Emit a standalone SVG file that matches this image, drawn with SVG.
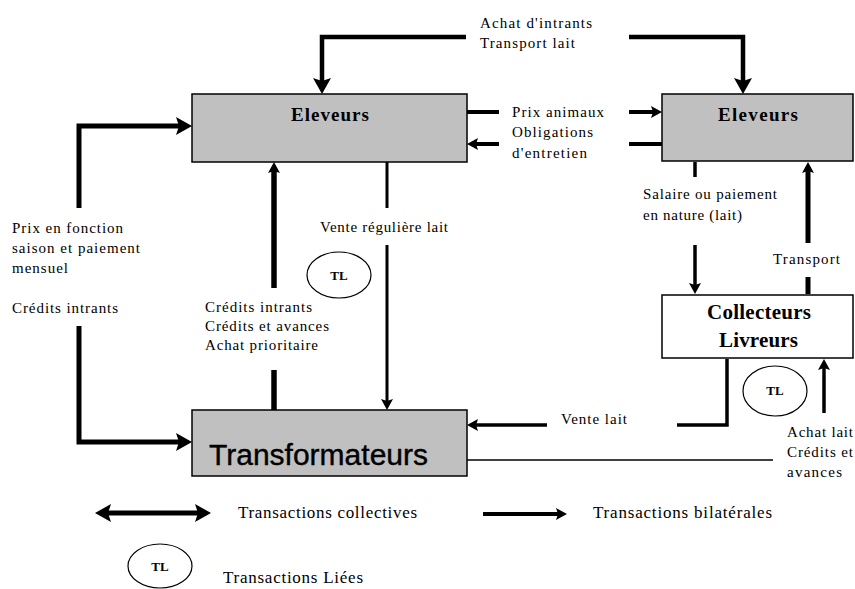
<svg xmlns="http://www.w3.org/2000/svg" width="855" height="589" viewBox="0 0 855 589">
<style>
.box{fill:#c0c0c0;stroke:#000;stroke-width:1.5}
.wbox{fill:#fff;stroke:#000;stroke-width:1.5}
.c{fill:none;stroke:#000;stroke-linejoin:miter;stroke-linecap:butt}
.col{stroke-width:5}
.bil{stroke-width:3.5}
.t{font-family:"Liberation Serif","Times New Roman",serif;font-size:15px;fill:#000}
.lg{font-family:"Liberation Serif","Times New Roman",serif;font-size:17px;fill:#000}
.nb{font-family:"Liberation Serif","Times New Roman",serif;font-weight:bold;fill:#000}
.tl{fill:#fff;stroke:#000;stroke-width:1.2}
.tlt{font-family:"Liberation Serif","Times New Roman",serif;font-weight:bold;font-size:13px;text-anchor:middle;fill:#000}
</style>
<defs>
<marker id="big" markerUnits="userSpaceOnUse" viewBox="0 0 16 18" markerWidth="16" markerHeight="18" refX="8" refY="9" orient="auto-start-reverse">
<path d="M0,0 L16,9 L0,18 L3,9 z" fill="#000"/>
</marker>
<marker id="small" markerUnits="userSpaceOnUse" viewBox="0 0 11 12" markerWidth="11" markerHeight="12" refX="5" refY="6" orient="auto-start-reverse">
<path d="M0,0 L11,6 L0,12 L2,6 z" fill="#000"/>
</marker>
</defs>

<g id="connectors">
<path class="c" style="stroke-width:4.5" d="M322,86 L322,37 L466,37" marker-start="url(#big)"/>
<path class="c" style="stroke-width:4.5" d="M629,37 L743,37 L743,86" marker-end="url(#big)"/>
<path class="c col" d="M184,126 L79,126 L79,208" marker-start="url(#big)"/>
<path class="c col" d="M79,326 L79,442 L184,442" marker-end="url(#big)"/>
<path class="c" style="stroke-width:5.5" d="M274,410 L274,370"/>
<path class="c" style="stroke-width:5.5" d="M274,288 L274,168" marker-end="url(#small)"/>
<path class="c" style="stroke-width:3" d="M387,162 L387,208"/>
<path class="c" style="stroke-width:3" d="M387,245 L387,404" marker-end="url(#small)"/>
<path class="c" style="stroke-width:4" d="M467,112 L499,112"/>
<path class="c" style="stroke-width:4" d="M629,112 L656,112" marker-end="url(#small)"/>
<path class="c" style="stroke-width:4" d="M662,144 L629,144"/>
<path class="c" style="stroke-width:4" d="M499,144 L473,144" marker-end="url(#small)"/>
<path class="c bil" d="M695,162 L695,177"/>
<path class="c bil" d="M695,245 L695,288" marker-end="url(#small)"/>
<path class="c col" d="M808,294 L808,277"/>
<path class="c col" d="M808,243 L808,168" marker-end="url(#small)"/>
<path class="c bil" d="M727,359 L727,425 L677,425"/>
<path class="c bil" d="M547,425 L473,425" marker-end="url(#small)"/>
<path class="c bil" d="M824,413 L824,365" marker-end="url(#small)"/>
<path class="c" style="stroke-width:1.5" d="M467,460 L773,460"/>
</g>

<g id="eleveurs-left">
<rect class="box" x="192" y="94" width="275" height="68"/>
<text class="nb" x="291" y="121" font-size="19" textLength="78" lengthAdjust="spacing">Eleveurs</text>
</g>
<g id="eleveurs-right">
<rect class="box" x="662" y="94" width="191" height="67"/>
<text class="nb" x="718" y="121" font-size="19" textLength="80" lengthAdjust="spacing">Eleveurs</text>
</g>
<g id="transformateurs">
<rect class="box" x="192" y="410" width="275" height="66"/>
<text x="209" y="465" font-family="'Liberation Sans',Arial,sans-serif" font-size="30" textLength="219" lengthAdjust="spacingAndGlyphs" stroke="#000" stroke-width="0.4">Transformateurs</text>
</g>
<g id="collecteurs">
<rect class="wbox" x="662" y="295" width="191" height="63"/>
<text class="nb" x="707" y="319" font-size="21" textLength="104" lengthAdjust="spacing">Collecteurs</text>
<text class="nb" x="719" y="347" font-size="21" textLength="79" lengthAdjust="spacing">Livreurs</text>
</g>
<g id="tl-1">
<ellipse class="tl" cx="339" cy="275" rx="32" ry="23"/>
<text class="tlt" x="339" y="280">TL</text>
</g>
<g id="tl-2">
<ellipse class="tl" cx="775" cy="391" rx="32" ry="25"/>
<text class="tlt" x="775" y="395">TL</text>
</g>

<g id="labels">
<text class="t" x="480" y="28" textLength="112" lengthAdjust="spacing">Achat d'intrants</text>
<text class="t" x="480" y="48" textLength="95" lengthAdjust="spacing">Transport lait</text>
<text class="t" x="512" y="117" textLength="92" lengthAdjust="spacing">Prix animaux</text>
<text class="t" x="512" y="137" textLength="81" lengthAdjust="spacing">Obligations</text>
<text class="t" x="512" y="158" textLength="75" lengthAdjust="spacing">d'entretien</text>
<text class="t" x="12" y="233" textLength="111" lengthAdjust="spacing">Prix en fonction</text>
<text class="t" x="12" y="253" textLength="128" lengthAdjust="spacing">saison et paiement</text>
<text class="t" x="12" y="273" textLength="56" lengthAdjust="spacing">mensuel</text>
<text class="t" x="12" y="313" textLength="106" lengthAdjust="spacing">Crédits intrants</text>
<text class="t" x="320" y="232" textLength="128" lengthAdjust="spacing">Vente régulière lait</text>
<text class="t" x="205" y="312" textLength="107" lengthAdjust="spacing">Crédits intrants</text>
<text class="t" x="205" y="331" textLength="124" lengthAdjust="spacing">Crédits et avances</text>
<text class="t" x="205" y="350" textLength="113" lengthAdjust="spacing">Achat prioritaire</text>
<text class="t" x="643" y="199" textLength="134" lengthAdjust="spacing">Salaire ou paiement</text>
<text class="t" x="643" y="220" textLength="99" lengthAdjust="spacing">en nature (lait)</text>
<text class="t" x="773" y="264" textLength="67" lengthAdjust="spacing">Transport</text>
<text class="t" x="561" y="424" textLength="66" lengthAdjust="spacing">Vente lait</text>
<text class="t" x="787" y="437" textLength="66" lengthAdjust="spacing">Achat lait</text>
<text class="t" x="787" y="457" textLength="66" lengthAdjust="spacing">Crédits et</text>
<text class="t" x="787" y="477" textLength="55" lengthAdjust="spacing">avances</text>
</g>

<g id="legend">
<path class="c col" d="M103,513 L203,513" marker-start="url(#big)" marker-end="url(#big)"/>
<text class="lg" x="238" y="518" textLength="179" lengthAdjust="spacing">Transactions collectives</text>
<path class="c" style="stroke-width:4" d="M483,514 L561,514" marker-end="url(#small)"/>
<text class="lg" x="593" y="518" textLength="179" lengthAdjust="spacing">Transactions bilatérales</text>
<ellipse class="tl" cx="160" cy="566" rx="32" ry="22"/>
<text class="tlt" x="160" y="571">TL</text>
<text class="lg" x="223" y="583" textLength="140" lengthAdjust="spacing">Transactions Liées</text>
</g>
</svg>
